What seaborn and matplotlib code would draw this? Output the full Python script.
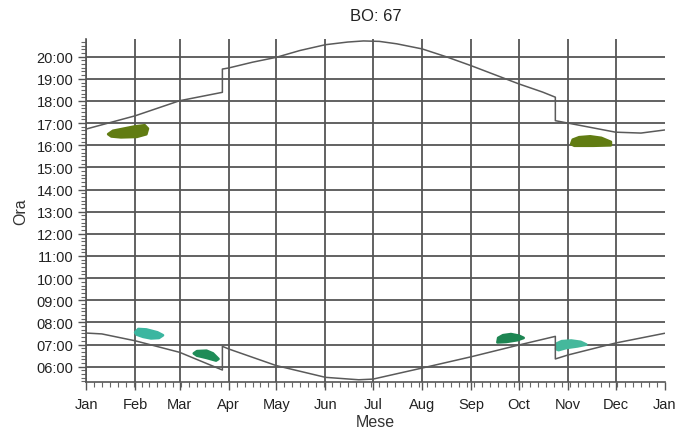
import numpy as np
import pandas as pd
import matplotlib
matplotlib.use("Agg")
import matplotlib.pyplot as plt
from matplotlib.ticker import FixedLocator, MultipleLocator, FuncFormatter
import seaborn as sns

# ── Data (day of year, hour as decimal) ──────────────────────
MONTH_DAYS   = [0, 31, 59, 90, 120, 151, 181, 212, 243, 273, 304, 334, 365]
MONTH_LABELS = ['Jan', 'Feb', 'Mar', 'Apr', 'May', 'Jun', 'Jul',
                'Aug', 'Sep', 'Oct', 'Nov', 'Dec', 'Jan']
HOUR_TICKS   = list(range(6, 21))

# sunset (with DST jumps)
SUNSET_DAY = [0, 31, 59, 86, 86, 90, 105, 120, 135, 151, 165, 175, 185, 196,
              212, 227, 243, 258, 273, 288, 296, 296, 304, 334, 350, 365]
SUNSET_H   = [16.73, 17.33, 18.01, 18.39, 19.44, 19.49, 19.75, 19.97, 20.28,
              20.54, 20.66, 20.71, 20.69, 20.58, 20.35, 20.00, 19.59, 19.18,
              18.77, 18.40, 18.17, 17.11, 17.00, 16.59, 16.55, 16.69]

# sunrise (with DST jumps)
SUNRISE_DAY = [0, 10, 31, 59, 86, 86, 90, 120, 151, 172, 181, 212, 243,
               273, 296, 296, 304, 334, 365]
SUNRISE_H   = [7.52, 7.48, 7.17, 6.65, 5.85, 6.92, 6.80, 6.05, 5.52, 5.41,
               5.44, 5.94, 6.45, 6.98, 7.37, 6.35, 6.53, 7.07, 7.51]

# coloured patches (outline day / hour)
P1_DAY = [14, 17, 24, 31, 37, 39, 38, 32, 22, 16]
P1_H   = [16.50, 16.65, 16.75, 16.85, 16.90, 16.75, 16.50, 16.38, 16.36, 16.40]
P2_DAY = [306, 307, 311, 318, 325, 331, 331, 320, 308]
P2_H   = [16.05, 16.25, 16.36, 16.40, 16.33, 16.15, 16.00, 15.98, 15.98]
P3_DAY = [31, 33, 38, 45, 48.5, 46, 41, 36, 32]
P3_H   = [7.55, 7.70, 7.68, 7.55, 7.42, 7.30, 7.28, 7.35, 7.45]
P4_DAY = [68, 70, 76, 80, 83.5, 82, 76, 70]
P4_H   = [6.60, 6.70, 6.72, 6.60, 6.35, 6.28, 6.40, 6.50]
P5_DAY = [259.5, 260, 263, 268, 273, 276, 272, 265]
P5_H   = [7.10, 7.30, 7.42, 7.47, 7.40, 7.30, 7.20, 7.12]
P6_DAY = [296.5, 297, 300, 306, 312, 315.5, 310, 303, 298]
P6_H   = [6.80, 7.05, 7.15, 7.18, 7.12, 7.00, 6.92, 6.85, 6.75]

PATCHES = [
    (P1_DAY, P1_H, '#617c12'),
    (P2_DAY, P2_H, '#617c12'),
    (P3_DAY, P3_H, '#3bb6a0'),
    (P4_DAY, P4_H, '#1f8c58'),
    (P5_DAY, P5_H, '#1d8552'),
    (P6_DAY, P6_H, '#45b89c'),
]

# ── Plot ─────────────────────────────────────────────────────
sns.set_style("white")
plt.rcParams['font.family'] = ['Liberation Sans', 'DejaVu Sans']

fig = plt.figure(figsize=(6.79, 4.39), dpi=100)
ax = fig.add_axes([0.1267, 0.1276, 0.979 - 0.1267, 0.909 - 0.1276])

GRID = '#555555'
for d in MONTH_DAYS[:-1]:
    ax.axvline(d, color=GRID, lw=1.3, zorder=1)
for h in HOUR_TICKS:
    ax.axhline(h, color=GRID, lw=1.3, zorder=1)

for px, py, col in PATCHES:
    ax.fill(px, py, color=col, lw=2.0, ec=col, joinstyle='round', zorder=3)

sunset = pd.DataFrame({'day': SUNSET_DAY, 'hour': SUNSET_H})
sunrise = pd.DataFrame({'day': SUNRISE_DAY, 'hour': SUNRISE_H})
sns.lineplot(data=sunset, x='day', y='hour', estimator=None, sort=False,
             color='#5a5a5a', lw=1.1, ax=ax, zorder=4)
sns.lineplot(data=sunrise, x='day', y='hour', estimator=None, sort=False,
             color='#5a5a5a', lw=1.1, ax=ax, zorder=4)

ax.set_xlim(0, 365)
ax.set_ylim(5.31, 20.8)

ax.xaxis.set_major_locator(FixedLocator(MONTH_DAYS))
ax.set_xticklabels(MONTH_LABELS)
ax.xaxis.set_minor_locator(MultipleLocator(5))
ax.yaxis.set_major_locator(FixedLocator(HOUR_TICKS))
ax.yaxis.set_major_formatter(FuncFormatter(lambda v, p: f"{int(round(v)):02d}:00"))
ax.yaxis.set_minor_locator(MultipleLocator(1 / 6))

ax.tick_params(axis='both', which='both', bottom=True, left=True,
               top=False, right=False)
ax.tick_params(axis='both', which='major', direction='out', length=6,
               width=1, color=GRID, labelsize=10.5, labelcolor='#222222', pad=3)
ax.tick_params(axis='both', which='minor', direction='out', length=3.5,
               width=0.8, color='#666666')
ax.tick_params(axis='x', which='major', pad=5)

for s in ['top', 'right']:
    ax.spines[s].set_visible(False)
for s in ['left', 'bottom']:
    ax.spines[s].set_color(GRID)
    ax.spines[s].set_linewidth(1.2)

ax.set_title("BO: 67", fontsize=12, color='#222222', pad=14)
ax.set_xlabel("Mese", fontsize=11.5, color='#333333', labelpad=2)
ax.set_ylabel("Ora", fontsize=11.5, color='#333333', labelpad=6)

plt.savefig("out.png", dpi=100)
